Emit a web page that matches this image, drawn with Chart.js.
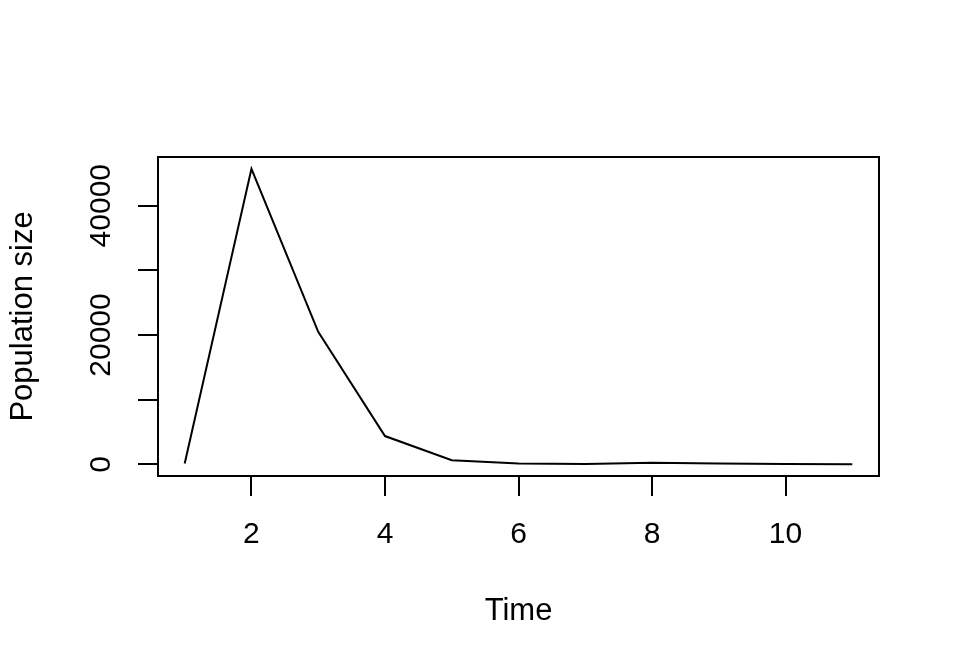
<!DOCTYPE html>
<html>
<head>
<meta charset="utf-8">
<script src="https://cdn.jsdelivr.net/npm/chart.js@4/dist/chart.umd.min.js"></script>
<style>
  html, body { margin: 0; padding: 0; background: #fff; }
  #wrap { width: 960px; height: 672px; }
</style>
</head>
<body>
<div id="wrap"><canvas id="chart" width="960" height="672"></canvas></div>
<script>
// values
const time = [1, 2, 3, 4, 5, 6, 7, 8, 9, 10, 11];
const population = [150, 45700, 20500, 4380, 650, 150, 50, 250, 150, 50, 30];

const xTicks = [2, 4, 6, 8, 10];
const yTicks = [0, 10000, 20000, 30000, 40000];
const yLabels = ["0", "", "20000", "", "40000"];

const xTitle = "Time";
const yTitle = "Population size";

(function () {
  const TICK_FONT = "30px 'Liberation Sans', Arial, sans-serif";
  const TITLE_FONT = "31px 'Liberation Sans', Arial, sans-serif";

  // R style 4% range extension
  function extend(arr) {
    const lo = Math.min(...arr), hi = Math.max(...arr);
    const pad = (hi - lo) * 0.04;
    return [lo - pad, hi + pad];
  }
  const [xMin, xMax] = extend(time);
  const [yMin, yMax] = extend(population);

  const rBase = {
    id: "rBase",
    afterDraw(chart) {
      const ctx = chart.ctx;
      const a = chart.chartArea;
      const xs = chart.scales.x, ys = chart.scales.y;
      ctx.save();
      ctx.strokeStyle = "#000";
      ctx.lineWidth = 2;
      ctx.strokeRect(a.left, a.top, a.right - a.left, a.bottom - a.top);

      ctx.fillStyle = "#000";
      ctx.font = TICK_FONT;
      ctx.textAlign = "center";
      ctx.textBaseline = "middle";
      xTicks.forEach(v => {
        ctx.fillText(String(v), xs.getPixelForValue(v), 535);
      });
      yTicks.forEach((v, i) => {
        if (!yLabels[i]) return;
        ctx.save();
        ctx.translate(102, ys.getPixelForValue(v));
        ctx.rotate(-Math.PI / 2);
        ctx.fillText(yLabels[i], 0, 0);
        ctx.restore();
      });

      ctx.font = TITLE_FONT;
      ctx.fillText(xTitle, (a.left + a.right) / 2, 611);
      ctx.save();
      ctx.translate(23, (a.top + a.bottom) / 2);
      ctx.rotate(-Math.PI / 2);
      ctx.fillText(yTitle, 0, 0);
      ctx.restore();
      ctx.restore();
    }
  };

  const tickGrid = {
    display: true,
    drawOnChartArea: false,
    drawTicks: true,
    tickLength: 20,
    color: "#000",
    lineWidth: 2
  };

  new Chart(document.getElementById("chart").getContext("2d"), {
    type: "line",
    data: {
      datasets: [{
        data: time.map((t, i) => ({ x: t, y: population[i] })),
        borderColor: "#000",
        borderWidth: 2,
        pointRadius: 0,
        tension: 0,
        fill: false
      }]
    },
    options: {
      responsive: false,
      animation: false,
      layout: { padding: { top: 157, right: 81, left: 0, bottom: 0 } },
      plugins: { legend: { display: false }, tooltip: { enabled: false } },
      scales: {
        x: {
          type: "linear",
          min: xMin, max: xMax,
          grid: tickGrid,
          border: { display: false },
          ticks: { display: false },
          afterBuildTicks(s) { s.ticks = xTicks.map(v => ({ value: v })); },
          afterFit(s) { s.height = 672 - 476; }
        },
        y: {
          type: "linear",
          min: yMin, max: yMax,
          grid: tickGrid,
          border: { display: false },
          ticks: { display: false },
          afterBuildTicks(s) { s.ticks = yTicks.map(v => ({ value: v })); },
          afterFit(s) { s.width = 158; }
        }
      }
    },
    plugins: [rBase]
  });
})();
</script>
</body>
</html>
